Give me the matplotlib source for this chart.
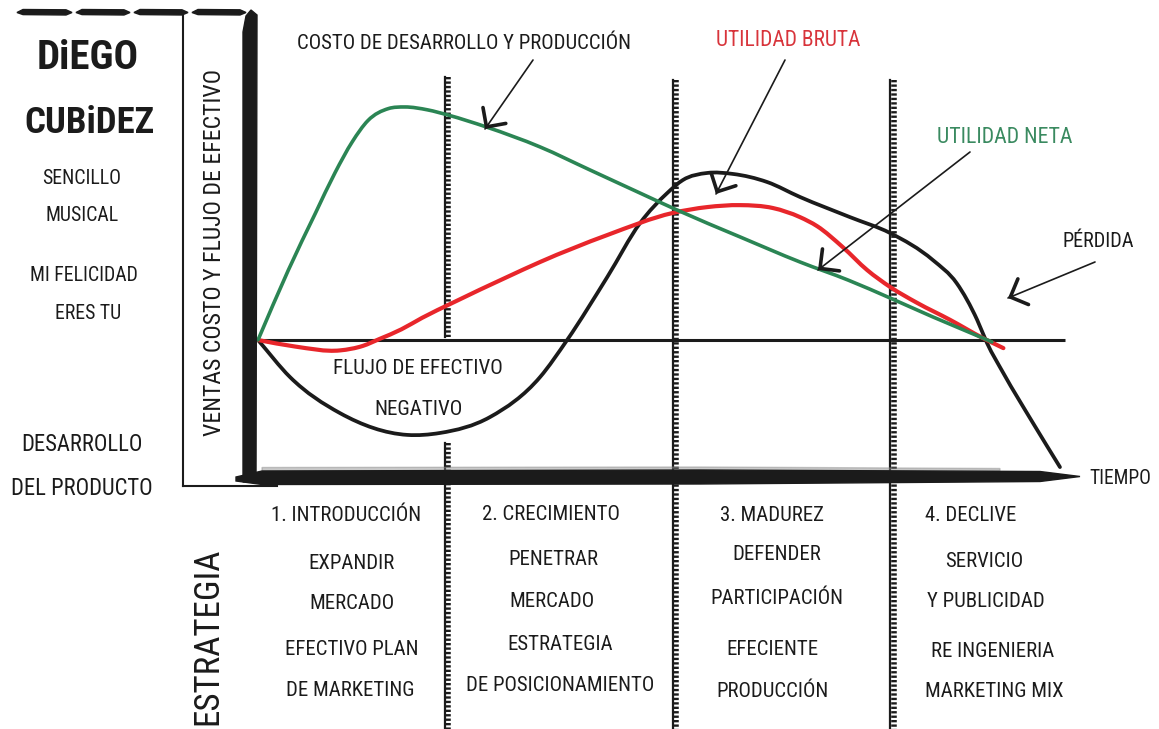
import matplotlib
matplotlib.use("Agg")
import numpy as np
import matplotlib.pyplot as plt
from matplotlib.path import Path
from matplotlib.patches import PathPatch, Polygon
from matplotlib import transforms

# ---------------- data (time 0..100, value units; 0 = break-even line) ----------------
stage_bounds = [22.8, 50.6, 77.1]
stage_titles = ["1. INTRODUCCIÓN", "2. CRECIMIENTO", "3. MADUREZ", "4. DECLIVE"]

green_t = [0.0, 3.7, 7.0, 9.4, 11.5, 13.4, 15.9, 17.9, 20.7, 23.2, 27.9, 34.4, 40.5,
           46.6, 51.1, 58.8, 66.1, 72.0, 77.1, 82.3, 88.4, 89.5]
green_v = [0.0, 21.5, 39.0, 51.5, 61.0, 67.5, 71.2, 71.7, 70.8, 69.2, 65.5, 59.4, 52.3,
           45.2, 40.0, 31.7, 24.0, 18.4, 12.9, 7.1, 0.6, -0.6]

red_t = [0.0, 4.5, 10.0, 12.8, 14.8, 17.5, 20.0, 23.7, 30.4, 34.4, 42.6, 50.6, 54.8, 58.8,
         62.8, 66.1, 68.2, 71.3, 74.3, 77.1, 80.4, 84.4, 88.4, 90.9]
red_v = [0.0, -2.0, -3.2, -1.8, 0.3, 3.3, 6.8, 11.4, 19.4, 24.0, 32.3, 39.1, 40.9, 41.5,
         40.6, 37.8, 35.0, 28.6, 21.5, 16.3, 11.4, 6.2, 0.6, -2.5]

black_t = [0.0, 3.9, 10.0, 18.2, 22.2, 28.3, 34.4, 37.7, 42.6, 46.6, 49.9, 51.8, 54.8,
           57.9, 62.1, 66.1, 72.2, 77.1, 82.3, 85.2, 87.7, 88.9, 90.9, 94.5, 97.8]
black_v = [0.0, -11.4, -22.5, -29.2, -28.6, -23.7, -11.4, 0.0, 19.4, 36.0, 45.2, 49.2, 51.4,
           51.1, 48.6, 44.0, 37.8, 32.9, 24.6, 17.5, 6.2, -0.9, -10.2, -25.5, -39.1]

zero_line_t = [0.0, 98.4]

W, H = 1159, 729
FONT = ["Roboto Condensed", "Liberation Sans Narrow", "Open Sans Condensed",
        "Roboto", "DejaVu Sans"]
INK = "#1b1b1b"
GREEN = "#2b8554"
RED = "#e8262b"
RED_TXT = "#d8343b"
GREEN_TXT = "#3a8a60"

fig = plt.figure(figsize=(W / 100, H / 100), dpi=100)
fig.patch.set_facecolor("white")

# chart axes: x px 258..1078 -> 0..100 ; y px 15..478 -> 100..-42.46
ax = fig.add_axes([258 / W, (H - 478) / H, 820 / W, 463 / H])
ax.set_xlim(0, 100)
ax.set_ylim((340 - 478) / 3.25, (340 - 15) / 3.25)
ax.axis("off")
ax.patch.set_alpha(0)
ax.set_zorder(1)

ov = fig.add_axes([0, 0, 1, 1])
ov.set_xlim(0, W)
ov.set_ylim(H, 0)
ov.axis("off")
ov.patch.set_alpha(0)
ov.set_zorder(2)


def smooth_path(t, v):
    """Cubic Hermite through the read points, drawn as Bezier segments."""
    t = np.asarray(t, float)
    v = np.asarray(v, float)
    n = len(t)
    dt = np.diff(t)
    s = np.diff(v) / dt
    m = np.empty(n)
    m[0], m[-1] = s[0], s[-1]
    for i in range(1, n - 1):
        m[i] = (dt[i - 1] * s[i] + dt[i] * s[i - 1]) / (dt[i - 1] + dt[i])
    verts = [(t[0], v[0])]
    codes = [Path.MOVETO]
    for i in range(n - 1):
        h = dt[i] / 3
        verts += [(t[i] + h, v[i] + h * m[i]), (t[i + 1] - h, v[i + 1] - h * m[i + 1]),
                  (t[i + 1], v[i + 1])]
        codes += [Path.CURVE4] * 3
    return Path(verts, codes)


# zero line
ax.plot(zero_line_t, [0, 0], color=INK, lw=2.2, solid_capstyle="butt", zorder=2)

# stage dividers (ladder style)
bottom_v = -125
div_segments = [
    [(80.9, 0.9), (-31.7, bottom_v)],
    [(80.0, bottom_v)],
    [(80.0, bottom_v)],
]
comb = transforms.offset_copy(ax.transData, fig=fig, x=3.5, y=0, units="dots")
for xb, segs in zip(stage_bounds, div_segments):
    for (y0, y1) in segs:
        ax.plot([xb, xb], [y0, y1], color=INK, lw=1.6, clip_on=False, zorder=3)
        ax.plot([xb, xb], [y0, y1], color=INK, lw=4.0, clip_on=False, zorder=3,
                transform=comb, dashes=(0.42, 0.38), solid_capstyle="butt",
                dash_capstyle="butt")

# curves
for t, v, c, lw, z in [(black_t, black_v, INK, 2.7, 4),
                       (red_t, red_v, RED, 3.0, 5),
                       (green_t, green_v, GREEN, 2.6, 6)]:
    ax.add_patch(PathPatch(smooth_path(t, v), fill=False, edgecolor=c, lw=lw,
                           capstyle="round", joinstyle="round", zorder=z, clip_on=False))

# ---------------- frame decorations (brush strokes) ----------------
ov.add_patch(Polygon([(243, 482), (243, 32), (246, 16), (251, 10), (257, 15), (256, 482)],
                     closed=True, color=INK, zorder=3))
for x0, x1 in [(17, 72), (76, 130), (134, 188), (192, 246)]:
    ov.add_patch(Polygon([(x0, 12.5), (x0 + 6, 9.5), (x1 - 6, 9.8), (x1, 12.5),
                          (x1 - 6, 15), (x0 + 6, 14.6)], closed=True, color=INK, zorder=3))
ov.plot([183, 183], [15, 486], color=INK, lw=1.5, zorder=3)
ov.plot([183, 277], [486, 486], color=INK, lw=1.5, zorder=3)
ov.add_patch(Polygon([(236, 477), (262, 471), (700, 470), (1040, 471.5), (1080, 476.5),
                      (1040, 481.5), (700, 484), (262, 484.5), (236, 481)],
                     closed=True, color=INK, zorder=3))
ov.add_patch(Polygon([(262, 467.5), (700, 467), (1000, 468.5), (1000, 470.5), (262, 471)],
                     closed=True, color="#888888", alpha=0.45, zorder=2))

# ---------------- text ----------------
renderer = fig.canvas.get_renderer()
CAP = 0.71


def fit_text(x, yc, s, w, h, color=INK, weight="normal", rotation=0, fs=None):
    if fs is None:
        fs = h / CAP / (100 / 72)
        fixed = False
    else:
        fixed = True
    t = ov.text(x, yc, s, fontsize=fs, family=FONT, color=color, fontweight=weight,
                fontstretch="condensed", ha="center", va="baseline", rotation=rotation,
                rotation_mode="anchor", zorder=5)
    if not fixed:
        ext = t.get_window_extent(renderer=renderer)
        length = ext.width if rotation == 0 else ext.height
        if length > w:
            fs *= w / length
            t.set_fontsize(fs)
    cap = CAP * fs * 100 / 72
    if rotation == 0:
        t.set_y(yc + cap / 2)
    else:
        t.set_x(x + cap / 2)
    return t, fs


fit_text(88, 55, "DiEGO", 102, 36, weight="black")
fit_text(89, 120, "CUBiDEZ", 130, 40, weight="black")
_, fs_side = fit_text(84, 274, "MI FELICIDAD", 108, 21)
fit_text(82, 177, "SENCILLO", 0, 0, fs=fs_side)
fit_text(82, 214, "MUSICAL", 0, 0, fs=fs_side)
fit_text(88, 312, "ERES TU", 0, 0, fs=fs_side)
_, fs_dev = fit_text(82, 487, "DEL PRODUCTO", 142, 26)
fit_text(82, 443, "DESARROLLO", 0, 0, fs=fs_dev)
fit_text(213, 252, "VENTAS COSTO Y FLUJO DE EFECTIVO", 367, 27, rotation=90)
fit_text(205, 636, "ESTRATEGIA", 178, 48, rotation=90)

fit_text(464, 42, "COSTO DE DESARROLLO Y PRODUCCIÓN", 334, 22)
fit_text(788, 38, "UTILIDAD BRUTA", 145, 23, color=RED_TXT)
fit_text(1005, 135, "UTILIDAD NETA", 136, 23, color=GREEN_TXT)
fit_text(1098, 240, "PÉRDIDA", 72, 21)
fit_text(1120, 477, "TIEMPO", 62, 22)
_, fs_flujo = fit_text(418, 367, "FLUJO DE EFECTIVO", 170, 22)
fit_text(418, 408, "NEGATIVO", 0, 0, fs=fs_flujo)

_, fs_stage = fit_text(346, 514, stage_titles[0], 150, 22)
stage_lines = [
    [(352, 562, "EXPANDIR"), (352, 602, "MERCADO"),
     (352, 648, "EFECTIVO PLAN"), (350, 689, "DE MARKETING")],
    [(551, 513, stage_titles[1]), (553, 558, "PENETRAR"), (552, 600, "MERCADO"),
     (560, 643, "ESTRATEGIA"), (560, 684, "DE POSICIONAMIENTO")],
    [(772, 514, stage_titles[2]), (777, 553, "DEFENDER"),
     (777, 597, "PARTICIPACIÓN"), (772, 648, "EFECIENTE"),
     (772, 690, "PRODUCCIÓN")],
    [(971, 514, stage_titles[3]), (984, 560, "SERVICIO"),
     (986, 600, "Y PUBLICIDAD"), (993, 650, "RE INGENIERIA"),
     (994, 690, "MARKETING MIX")],
]
for col in stage_lines:
    for x, y, s in col:
        fit_text(x, y, s, 0, 0, fs=fs_stage)

# ---------------- arrows ----------------
arrows = [((533, 60), (485, 129)),
          ((785, 60), (716, 194)),
          ((970, 152), (818, 270)),
          ((1095, 262), (1008, 298))]
for (x0, y0), (x1, y1) in arrows:
    ov.annotate("", xy=(x1, y1), xytext=(x0, y0),
                arrowprops=dict(arrowstyle="-", lw=1.2, color=INK,
                                shrinkA=0, shrinkB=0), zorder=6)
    d = np.array([x0 - x1, y0 - y1], float)
    d /= np.hypot(*d)
    ov.annotate("", xy=(x1, y1), xytext=(x1 + 4 * d[0], y1 + 4 * d[1]),
                arrowprops=dict(arrowstyle="->,head_length=1.0,head_width=1.0",
                                lw=2.6, color=INK, shrinkA=0, shrinkB=0), zorder=6)

fig.savefig("out.png", dpi=100, facecolor="white")
